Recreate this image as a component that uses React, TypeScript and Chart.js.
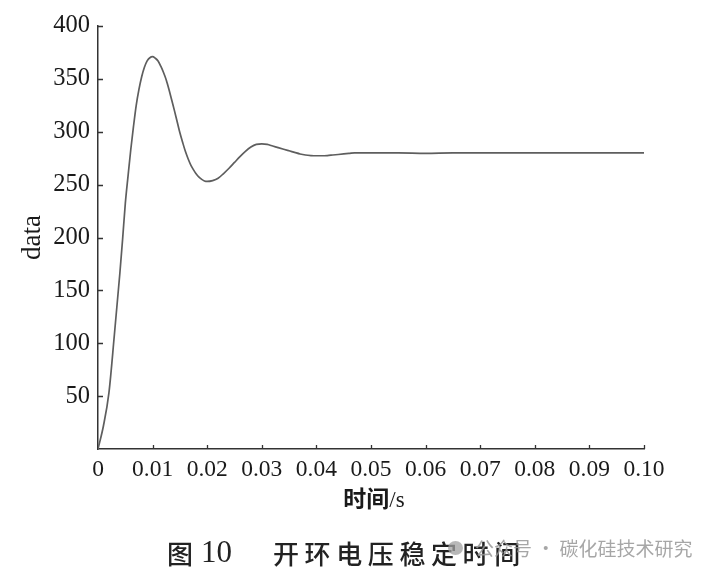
import React, { useEffect, useRef } from "react";
import { Chart, registerables } from "chart.js";

Chart.register(...registerables);

const timeS = [
  0, 0.001, 0.002, 0.003, 0.004, 0.0045, 0.005, 0.0055, 0.006, 0.0065, 0.007,
  0.0075, 0.008, 0.0085, 0.009, 0.0095, 0.01, 0.0105, 0.011, 0.0115, 0.012,
  0.0125, 0.013, 0.0135, 0.014, 0.0145, 0.015, 0.0155, 0.016, 0.0165, 0.017,
  0.0175, 0.018, 0.0185, 0.019, 0.0195, 0.02, 0.021, 0.022, 0.023, 0.024,
  0.025, 0.026, 0.027, 0.028, 0.029, 0.03, 0.031, 0.032, 0.033, 0.034,
  0.035, 0.036, 0.037, 0.038, 0.039, 0.04, 0.041, 0.042, 0.043, 0.044,
  0.045, 0.046, 0.047, 0.048, 0.05, 0.055, 0.06, 0.065, 0.07, 0.075,
  0.08, 0.085, 0.09, 0.095, 0.1,
];
const voltage = [
  0, 22, 53, 108, 166, 198, 232, 258, 283, 305, 325,
  340, 352, 361, 367, 370, 371, 369.5, 367, 362, 356,
  349, 340, 330, 320, 309.5, 299, 290, 281.5, 274.5, 268.5,
  264, 260, 257, 255, 253.5, 253, 253.8, 256, 260.5, 265.5,
  271, 276.5, 281.5, 285.5, 288, 288.5, 288, 286.5, 285, 283.5,
  282, 280.5, 279, 278, 277.5, 277.3, 277.3, 277.5, 278, 278.5,
  279, 279.5, 280, 280, 280, 280, 279.6, 280, 280, 280,
  280, 280, 280, 280, 280,
];
const xTickValues = [0, 0.01, 0.02, 0.03, 0.04, 0.05, 0.06, 0.07, 0.08, 0.09, 0.1];
const yTickValues = [50, 100, 150, 200, 250, 300, 350, 400];
const yTitle = "data";
const xTitleBold = "时间";
const xTitleUnit = "/s";
const captionNo = "图";
const captionNum = "10";
const captionText = "开环电压稳定时间";
const watermark = "公众号 · 碳化硅技术研究";

const serif = "'Liberation Serif', 'Times New Roman', serif";
const cjk = "'Noto Sans CJK SC', sans-serif";

const inwardTicks = {
  id: "inwardTicks",
  afterDraw(chart: any) {
    const { ctx, chartArea, scales } = chart;
    ctx.save();
    ctx.strokeStyle = "#333";
    ctx.lineWidth = 1.3;
    ctx.beginPath();
    for (const v of yTickValues) {
      const py = Math.round(scales.y.getPixelForValue(v)) + 0.5;
      ctx.moveTo(chartArea.left, py);
      ctx.lineTo(chartArea.left + 5, py);
    }
    for (const v of xTickValues) {
      if (v === 0) continue;
      const px = Math.round(scales.x.getPixelForValue(v)) + 0.5;
      ctx.moveTo(px, chartArea.bottom);
      ctx.lineTo(px, chartArea.bottom - 4);
    }
    ctx.stroke();
    ctx.restore();
  },
};

export default function App() {
  const ref = useRef<HTMLCanvasElement | null>(null);
  useEffect(() => {
    if (!ref.current) return;
    const points = timeS.map((t, i) => ({ x: t, y: voltage[i] }));
    const chart = new Chart(ref.current, {
      type: "line",
      data: {
        datasets: [
          {
            data: points,
            borderColor: "#5e5e5e",
            borderWidth: 1.7,
            pointRadius: 0,
            cubicInterpolationMode: "monotone",
            fill: false,
          },
        ],
      },
      plugins: [inwardTicks],
      options: {
        animation: false,
        responsive: false,
        devicePixelRatio: 1,
        layout: { padding: { top: 26, right: 64, left: 0, bottom: 0 } },
        plugins: { legend: { display: false }, tooltip: { enabled: false } },
        scales: {
          x: {
            type: "linear",
            min: 0,
            max: 0.1,
            afterFit: (s: any) => {
              s.height = 127;
            },
            afterBuildTicks: (s: any) => {
              s.ticks = xTickValues.map((v) => ({ value: v }));
            },
            ticks: {
              autoSkip: false,
              maxRotation: 0,
              padding: 7,
              color: "#1a1a1a",
              font: { family: serif, size: 23.5 },
              callback: (v: any) => (Number(v) === 0 ? "0" : Number(v).toFixed(2)),
            },
            grid: { display: false, drawTicks: false },
            border: { display: true, color: "#333", width: 1.5 },
          },
          y: {
            min: 0,
            max: 400,
            afterFit: (s: any) => {
              s.width = 98;
            },
            afterBuildTicks: (s: any) => {
              s.ticks = [0, ...yTickValues].map((v) => ({ value: v }));
            },
            ticks: {
              autoSkip: false,
              padding: 8,
              color: "#1a1a1a",
              font: { family: serif, size: 24.5 },
              callback: (v: any) => (Number(v) === 0 ? "" : String(v)),
            },
            title: {
              display: true,
              text: yTitle,
              color: "#1a1a1a",
              font: { family: serif, size: 27 },
              padding: { top: 17, bottom: 0 },
            },
            grid: { display: false, drawTicks: false },
            border: { display: true, color: "#333", width: 1.5 },
          },
        },
      },
    });
    return () => chart.destroy();
  }, []);

  return (
    <div style={{ position: "fixed", left: 0, top: 0, width: 708, height: 576, background: "#fff" }}>
      <canvas ref={ref} width={708} height={576} style={{ width: 708, height: 576, display: "block" }} />
      <div
        style={{
          position: "absolute",
          left: 274,
          width: 200,
          top: 483,
          textAlign: "center",
          fontSize: 23,
          lineHeight: "28px",
          color: "#1a1a1a",
          whiteSpace: "nowrap",
        }}
      >
        <span style={{ fontFamily: cjk, fontWeight: 700 }}>{xTitleBold}</span>
        <span style={{ fontFamily: serif }}>{xTitleUnit}</span>
      </div>
      <div style={{ position: "absolute", left: 167, top: 536, fontFamily: cjk, fontWeight: 500, fontSize: 26, lineHeight: "34px", color: "#222", whiteSpace: "nowrap" }}>
        {captionNo}
      </div>
      <div style={{ position: "absolute", left: 201, top: 534, fontFamily: serif, fontSize: 31, lineHeight: "36px", color: "#222", whiteSpace: "nowrap" }}>
        {captionNum}
      </div>
      <div style={{ position: "absolute", left: 273, top: 536, fontFamily: cjk, fontWeight: 500, fontSize: 26, letterSpacing: 5.6, lineHeight: "34px", color: "#222", whiteSpace: "nowrap" }}>
        {captionText}
      </div>
      <div style={{ position: "absolute", left: 448, top: 541, width: 15, height: 14, borderRadius: "50%", background: "rgba(160,160,160,0.75)" }} />
      <div style={{ position: "absolute", left: 475, top: 535, fontFamily: cjk, fontSize: 19, lineHeight: "26px", color: "rgba(150,150,150,0.85)", whiteSpace: "nowrap" }}>
        {watermark}
      </div>
    </div>
  );
}
